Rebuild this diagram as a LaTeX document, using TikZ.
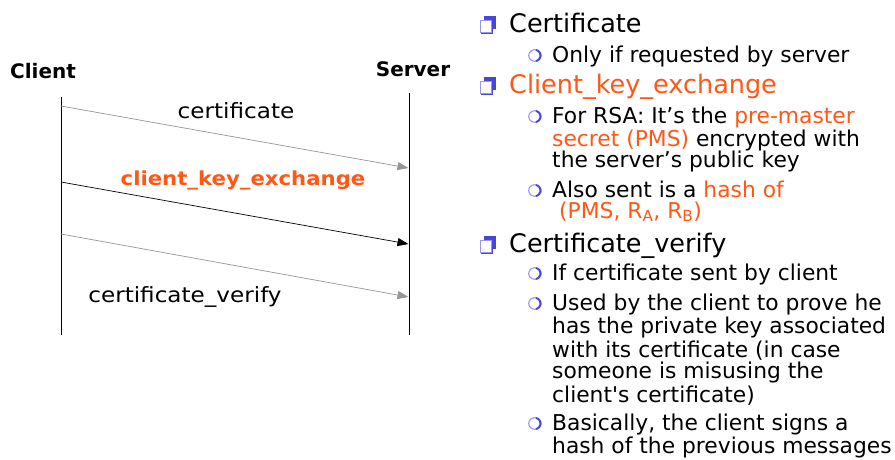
\documentclass[tikz,border=0pt]{standalone}
\usepackage{fontspec}
\setmainfont{DejaVu Sans}
\newfontfamily\wideface[FakeStretch=1.1]{DejaVu Sans}
\newfontfamily\straightface[Ligatures=TeXOff]{DejaVu Sans}
\usetikzlibrary{arrows.meta}
\definecolor{accent}{RGB}{255,88,22}
\definecolor{msggray}{RGB}{150,150,150}
\definecolor{bulletblue}{RGB}{70,70,215}
\definecolor{bulletlight}{RGB}{150,150,235}
\tikzset{
  lifeline/.style={line width=0.9pt, black},
  msg/.style={line width=0.7pt, -{Triangle[length=11pt,width=8pt]}},
  party/.style={font=\bfseries\fontsize{20}{23}\selectfont, inner sep=0pt},
  msglabel/.style={font=\wideface\fontsize{21}{24}\selectfont, inner sep=0pt},
  toptext/.style={anchor=base west, inner sep=0pt, font=\fontsize{25.5}{28}\selectfont},
  subtext/.style={anchor=base west, inner sep=0pt, font=\fontsize{21.8}{25}\selectfont},
}
% square bullet with a shadow square behind it
\newcommand{\sqbullet}[2]{%
  \fill[bulletblue] (#1+4,#2-4) rectangle (#1+16,#2+9);
  \fill[white] (#1,#2) rectangle (#1+12,#2+13);
  \draw[bulletlight, line width=1.2pt] (#1+0.6,#2+0.6) rectangle (#1+11.4,#2+12.4);
  \draw[bulletblue, line width=1pt] (#1+12,#2-3.5) -- (#1+12,#2+13) -- (#1+1,#2+13);
}
% hollow round bullet, heavier on the right
\newcommand{\rdbullet}[2]{%
  \draw[bulletlight, line width=1.1pt] (#1,#2) ellipse (6.3 and 5.8);
  \draw[bulletblue, line width=1.8pt] (#1+1,#2-5.6) arc (-75:75:5.9 and 5.8);
}
\begin{document}
\begin{tikzpicture}[x=1pt, y=-1pt]
\useasboundingbox (0,0) rectangle (895,459);
\fill[white] (0,0) rectangle (895,459);

% parties and lifelines
\node[party] (client) at (43,71) {Client};
\node[party] (server) at (413,69) {Server};
\coordinate (ctop) at (61,97);
\coordinate (cbot) at (61,335);
\coordinate (stop) at (409,93);
\coordinate (sbot) at (409,335);
\draw[lifeline] (ctop) -- (cbot);
\draw[lifeline] (stop) -- (sbot);

% messages
\coordinate (m1a) at (61,106);
\coordinate (m1b) at (408.5,168);
\coordinate (m2a) at (61,182);
\coordinate (m2b) at (408.5,244);
\coordinate (m3a) at (61,234);
\coordinate (m3b) at (408.5,297);
\draw[msg, msggray] (m1a) -- (m1b);
\draw[msg, black] (m2a) -- (m2b);
\draw[msg, msggray] (m3a) -- (m3b);
\node[msglabel] (l1) at (236,111) {certificate};
\node[msglabel, font=\wideface\bfseries\fontsize{19.3}{22}\selectfont, text=accent] (l2) at (243,180) {client\_key\_exchange};
\node[msglabel] (l3) at (185,297) {certificate\_verify};

% bullet list
\sqbullet{480}{20}
\node[toptext] (b1) at (509,32) {Certificate};
\rdbullet{535}{55.5}
\node[subtext] (b1a) at (552,62) {Only if requested by server};

\sqbullet{480}{81}
\node[toptext, text=accent] (b2) at (509,93) {Client\_key\_exchange};
\rdbullet{535}{116.5}
\node[subtext] (b2a1) at (552,123) {For RSA: It’s the \textcolor{accent}{pre-master}};
\node[subtext] (b2a2) at (552,146) {\textcolor{accent}{secret (PMS)} encrypted with};
\node[subtext] (b2a3) at (552,167) {the server’s public key};
\rdbullet{535}{190.5}
\node[subtext] (b2b1) at (552,197) {Also sent is a \textcolor{accent}{hash of}};
\node[subtext, text=accent] (b2b2) at (559,218) {(PMS, R\textsubscript{A}, R\textsubscript{B})};

\sqbullet{480}{240}
\node[toptext] (b3) at (509,252) {Certificate\_verify};
\rdbullet{535}{273.5}
\node[subtext] (b3a) at (552,280) {If certificate sent by client};
\rdbullet{535}{303.5}
\node[subtext] (b3b1) at (552,310) {Used by the client to prove he};
\node[subtext] (b3b2) at (552,333) {has the private key associated};
\node[subtext] (b3b3) at (552,357) {with its certificate (in case};
\node[subtext] (b3b4) at (552,378) {someone is misusing the};
\node[subtext] (b3b5) at (552,402) {client{\straightface '}s certificate)};
\rdbullet{535}{423.5}
\node[subtext] (b3c1) at (552,430) {Basically, the client signs a};
\node[subtext] (b3c2) at (552,453) {hash of the previous messages};
\end{tikzpicture}
\end{document}
